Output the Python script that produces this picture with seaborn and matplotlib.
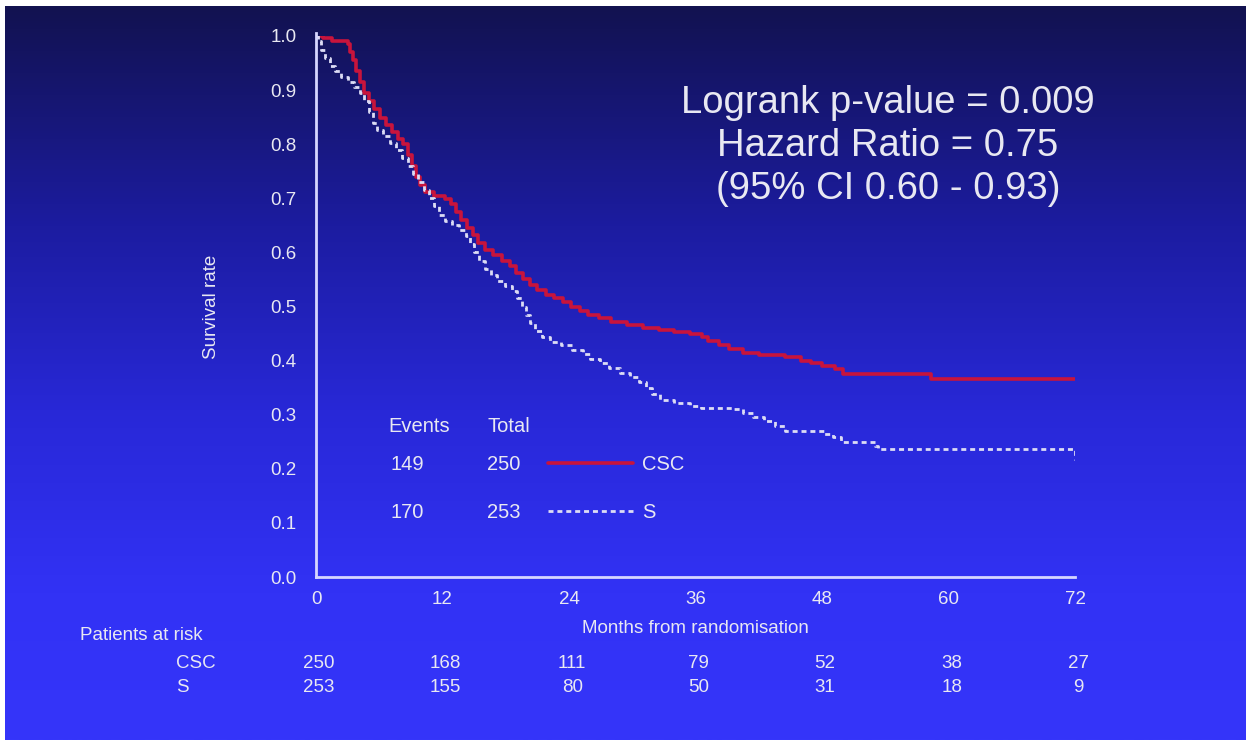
import matplotlib
matplotlib.use("Agg")
import matplotlib.pyplot as plt
import seaborn as sns
import pandas as pd
import numpy as np

# Kaplan-Meier step values (months, survival)
csc_time = [0, 0.7, 1.5, 3.0, 3.2, 3.5, 3.8, 4.2, 4.6, 5.0, 5.5, 6.1, 6.6, 7.2, 7.8,
            8.3, 8.7, 9.1, 9.5, 9.9, 10.3, 11.2, 12.2, 12.8, 13.3, 13.8, 14.3, 14.9,
            15.4, 16.0, 16.8, 17.6, 18.4, 19.0, 19.6, 20.3, 21.0, 21.8, 22.6, 23.4,
            24.2, 25.0, 25.8, 26.8, 28.0, 29.5, 31.0, 32.5, 34.0, 35.5, 36.6, 37.2,
            38.2, 39.2, 40.5, 42.0, 44.5, 46.0, 47.0, 48.0, 49.2, 50.0, 58.3, 72.0]
csc_surv = [1.0, 0.996, 0.99, 0.985, 0.97, 0.955, 0.935, 0.915, 0.895, 0.88, 0.865,
            0.848, 0.835, 0.822, 0.81, 0.80, 0.78, 0.76, 0.74, 0.725, 0.712, 0.705,
            0.698, 0.69, 0.675, 0.66, 0.645, 0.632, 0.618, 0.605, 0.595, 0.585, 0.575,
            0.562, 0.55, 0.54, 0.53, 0.522, 0.515, 0.508, 0.50, 0.492, 0.485, 0.478,
            0.472, 0.466, 0.461, 0.457, 0.453, 0.45, 0.444, 0.436, 0.428, 0.421, 0.414,
            0.41, 0.406, 0.40, 0.395, 0.39, 0.385, 0.375, 0.366, 0.366]

s_time = [0, 0.2, 0.5, 0.9, 1.3, 1.8, 2.4, 3.0, 3.6, 4.2, 4.6, 5.0, 5.4, 5.8, 6.4,
          7.0, 7.6, 8.2, 8.7, 9.2, 9.7, 10.2, 10.7, 11.2, 11.7, 12.2, 12.9, 13.6,
          14.2, 14.6, 15.0, 15.5, 16.0, 16.6, 17.2, 17.9, 18.6, 19.1, 19.5, 19.9,
          20.3, 20.8, 21.4, 22.2, 23.2, 24.3, 25.3, 26.0, 26.9, 27.8, 28.8, 29.8,
          30.6, 31.3, 31.9, 32.6, 34.0, 35.5, 36.5, 39.5, 40.5, 41.5, 42.5, 43.5,
          44.5, 48.2, 49.0, 49.8, 53.0, 53.3, 71.8, 72.0]
s_surv = [1.0, 0.99, 0.975, 0.96, 0.945, 0.935, 0.925, 0.915, 0.905, 0.895, 0.88,
          0.86, 0.84, 0.826, 0.815, 0.803, 0.79, 0.775, 0.76, 0.745, 0.73, 0.715,
          0.70, 0.685, 0.67, 0.658, 0.65, 0.642, 0.63, 0.615, 0.60, 0.585, 0.57,
          0.558, 0.548, 0.538, 0.528, 0.515, 0.50, 0.485, 0.47, 0.455, 0.443, 0.435,
          0.428, 0.42, 0.412, 0.403, 0.395, 0.386, 0.378, 0.37, 0.36, 0.35, 0.338,
          0.328, 0.322, 0.316, 0.312, 0.31, 0.303, 0.296, 0.288, 0.28, 0.27, 0.265,
          0.258, 0.25, 0.243, 0.236, 0.236, 0.216]

x_ticks = [0, 12, 24, 36, 48, 60, 72]
y_ticks = [0.0, 0.1, 0.2, 0.3, 0.4, 0.5, 0.6, 0.7, 0.8, 0.9, 1.0]

groups = ["CSC", "S"]
events = [149, 170]
totals = [250, 253]
at_risk_csc = [250, 168, 111, 79, 52, 38, 27]
at_risk_s = [253, 155, 80, 50, 31, 18, 9]

stats_lines = ["Logrank p-value = 0.009", "Hazard Ratio = 0.75", "(95% CI 0.60 - 0.93)"]

W, H = 1253, 740
TXT = "#e8e8f2"
RED = "#c8143c"
FONT = "Liberation Sans"


def px(x, y):
    """pixel position (from top-left) -> figure fraction"""
    return x / W, 1 - y / H


sns.set_style("white")
plt.rcParams["font.family"] = [FONT, "DejaVu Sans"]

fig = plt.figure(figsize=(W / 100, H / 100), dpi=100)
fig.patch.set_facecolor("white")

# blue gradient backdrop
bg = fig.add_axes([5 / W, 0, (1246 - 5) / W, (H - 6) / H])
stops = np.array([[18, 18, 80], [28, 28, 160], [40, 40, 215], [50, 50, 245], [53, 53, 250]]) / 255
pos = np.array([0.0, 0.3, 0.55, 0.8, 1.0])
g = np.linspace(0, 1, 400)
grad = np.stack([np.interp(g, pos, stops[:, c]) for c in range(3)], axis=-1)
bg.imshow(grad[:, None, :], aspect="auto", extent=[0, 1, 1, 0])
bg.set_axis_off()

l, b = px(316, 577)
r, t = px(1075, 36)
ax = fig.add_axes([l, b, r - l, t - b])
ax.set_facecolor("none")

csc = pd.DataFrame({"t": csc_time, "s": csc_surv})
sg = pd.DataFrame({"t": s_time, "s": s_surv})

sns.lineplot(data=csc, x="t", y="s", ax=ax, color=RED, lw=2.6,
             drawstyle="steps-post", estimator=None, sort=False, label=groups[0])
sns.lineplot(data=sg, x="t", y="s", ax=ax, color="#dcdcf5", lw=2.0,
             linestyle=(0, (1.8, 1.4)), drawstyle="steps-post",
             estimator=None, sort=False, label=groups[1])

ax.set_xlim(0, 72)
ax.set_ylim(0, 1)
ax.set_xticks(x_ticks)
ax.set_yticks(y_ticks)
ax.set_yticklabels([f"{v:.1f}" for v in y_ticks])
ax.tick_params(axis="both", colors="#101030", direction="out", length=4, width=1.5,
               labelcolor=TXT, labelsize=13.5)
ax.tick_params(axis="y", pad=10)
ax.tick_params(axis="x", pad=6)
for side in ["top", "right"]:
    ax.spines[side].set_visible(False)
for side in ["left", "bottom"]:
    ax.spines[side].set_color("#d6d6ff")
    ax.spines[side].set_linewidth(2)
ax.spines["left"].set_bounds(0, 1.005)
ax.spines["left"].set_clip_on(False)

ax.set_xlabel("Months from randomisation", color=TXT, fontsize=13.5, labelpad=9)
ax.set_ylabel("Survival rate", color=TXT, fontsize=13.5, labelpad=36)

# legend (group label + line sample)
leg = ax.legend(loc="upper left", bbox_to_anchor=px(548, 455), bbox_transform=fig.transFigure,
                frameon=False, fontsize=14.5, handlelength=4.2, handletextpad=0.45,
                labelspacing=1.45, borderpad=0, borderaxespad=0)
for txt in leg.get_texts():
    txt.set_color(TXT)

# events / total columns
fig.text(*px(388, 426), "Events", color=TXT, fontsize=14.5, va="center", ha="left")
fig.text(*px(488, 426), "Total", color=TXT, fontsize=14.5, va="center", ha="left")
for i, y in enumerate([465, 512]):
    fig.text(*px(391, y), str(events[i]), color=TXT, fontsize=14.5, va="center", ha="left")
    fig.text(*px(487, y), str(totals[i]), color=TXT, fontsize=14.5, va="center", ha="left")

# stats box
for i, line in enumerate(stats_lines):
    fig.text(*px(888, 103 + 43 * i), line, color=TXT, fontsize=27.5, ha="center", va="center")

# patients at risk table
fig.text(*px(80, 636), "Patients at risk", color=TXT, fontsize=13.5, ha="left", va="center")
fig.text(*px(176, 664), "CSC", color=TXT, fontsize=13.5, ha="left", va="center")
fig.text(*px(176, 688), "S", color=TXT, fontsize=13.5, ha="left", va="center")
trans = matplotlib.transforms.blended_transform_factory(ax.transData, fig.transFigure)
for xv, a, b2 in zip(x_ticks, at_risk_csc, at_risk_s):
    ax.text(xv + 0.3, px(0, 664)[1], str(a), transform=trans, color=TXT, fontsize=13.5,
            ha="center", va="center", clip_on=False)
    ax.text(xv + 0.3, px(0, 688)[1], str(b2), transform=trans, color=TXT, fontsize=13.5,
            ha="center", va="center", clip_on=False)

fig.savefig("out.png", dpi=100)
